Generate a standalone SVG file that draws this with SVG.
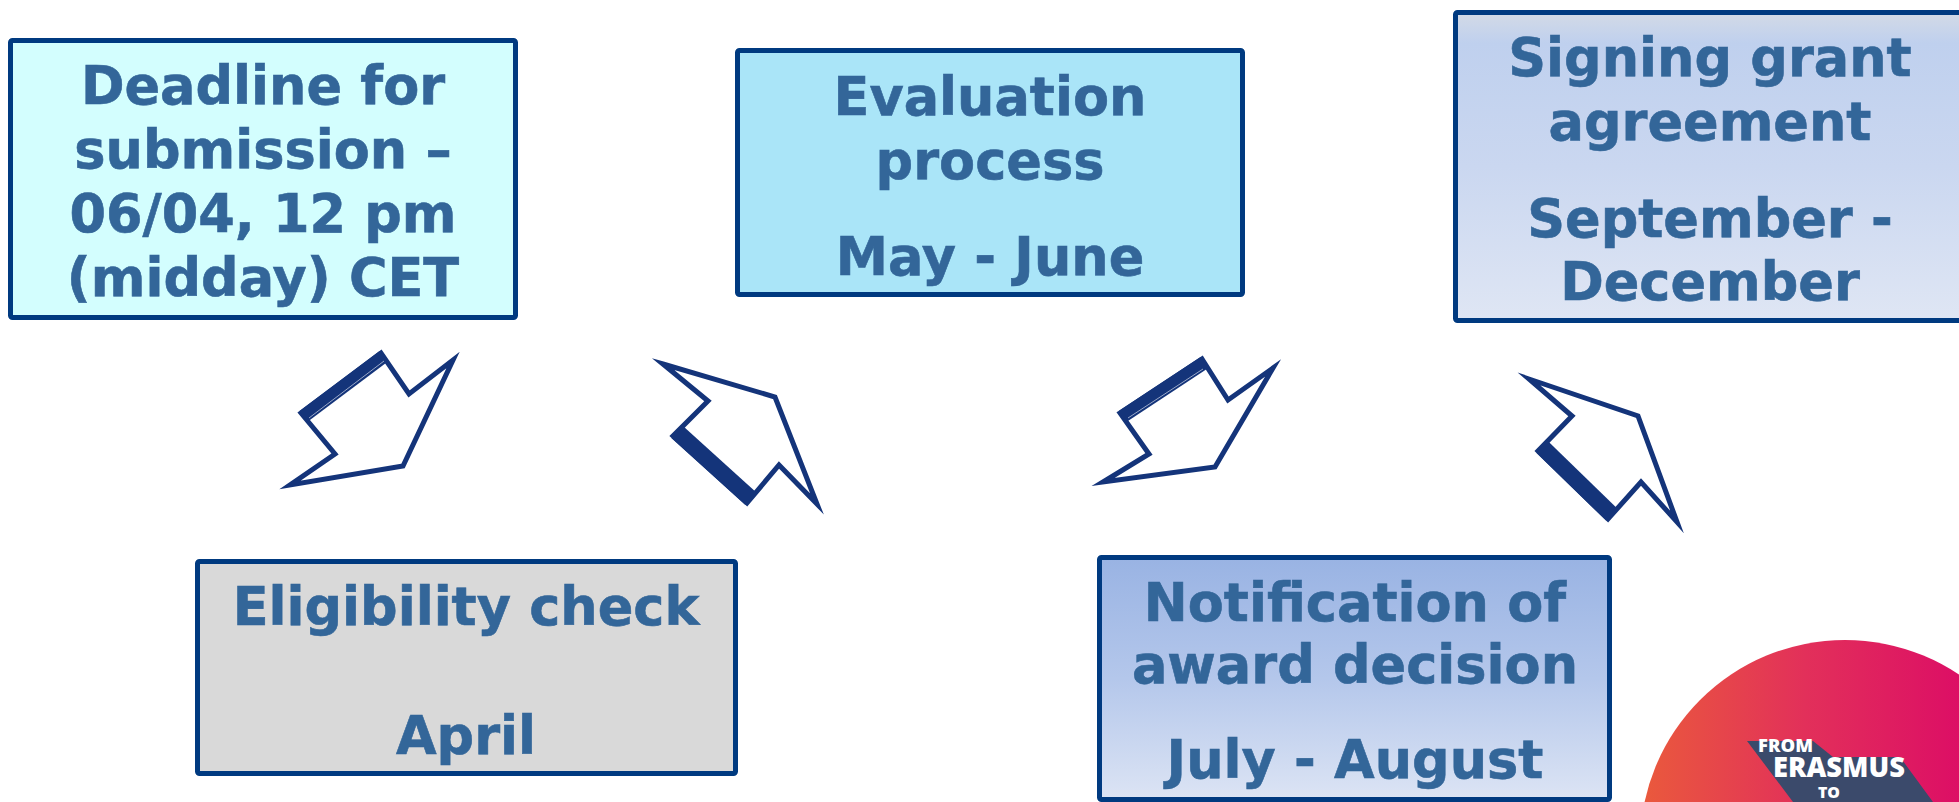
<svg xmlns="http://www.w3.org/2000/svg" width="1959" height="802" viewBox="0 0 1959 802">
<defs>
<style>
.box{stroke:#003A80;stroke-width:5;}
.t{font-family:"DejaVu Sans","Verdana",sans-serif;font-weight:bold;font-size:52.5px;fill:#336699;stroke:#336699;stroke-width:0.6;text-anchor:middle;}
.arr{fill:#FFFFFF;stroke:#14347A;stroke-width:5;stroke-linejoin:miter;stroke-miterlimit:10;}
.band{fill:#14347A;}
.hl{stroke:#9AA8C8;stroke-width:1;fill:none;}
.lg{font-family:"Open Sans","Roboto",sans-serif;font-weight:800;fill:#FFFFFF;}
</style>
<linearGradient id="gSign" x1="0" y1="0" x2="0" y2="1">
<stop offset="0" stop-color="#D3DAE6"/>
<stop offset="0.1" stop-color="#BFD0EE"/>
<stop offset="0.5" stop-color="#CAD7F0"/>
<stop offset="1" stop-color="#DFE6F4"/>
</linearGradient>
<linearGradient id="gNotif" x1="0" y1="0" x2="0" y2="1">
<stop offset="0" stop-color="#99B3E3"/>
<stop offset="0.5" stop-color="#B4C7EB"/>
<stop offset="1" stop-color="#DCE4F4"/>
</linearGradient>
<linearGradient id="gLogo" gradientUnits="userSpaceOnUse" x1="1640" y1="0" x2="1970" y2="0">
<stop offset="0" stop-color="#EA5A3C"/>
<stop offset="0.5" stop-color="#E2305A"/>
<stop offset="1" stop-color="#DC0C66"/>
</linearGradient>
</defs>
<rect x="0" y="0" width="1959" height="802" fill="#FFFFFF"/>

<g id="node-deadline">
<rect class="box" x="10.5" y="40.5" width="505" height="277" rx="2" fill="#D3FEFE"/>
<text class="t" x="263" y="104">Deadline for</text>
<text class="t" x="263" y="168">submission –</text>
<text class="t" x="263" y="232">06/04, 12 pm</text>
<text class="t" x="263" y="296">(midday) CET</text>
</g>

<g id="node-evaluation">
<rect class="box" x="737.5" y="50.5" width="505" height="244" rx="2" fill="#AAE5F8"/>
<text class="t" x="990" y="115">Evaluation</text>
<text class="t" x="990" y="179">process</text>
<text class="t" x="990" y="275">May - June</text>
</g>

<g id="node-signing">
<rect class="box" x="1455.5" y="12.5" width="560" height="308" rx="2" fill="url(#gSign)"/>
<text class="t" x="1710" y="76">Signing grant</text>
<text class="t" x="1710" y="140">agreement</text>
<text class="t" x="1710" y="237">September -</text>
<text class="t" x="1710" y="300">December</text>
</g>

<g id="node-eligibility">
<rect class="box" x="197.5" y="561.5" width="538" height="212" rx="2" fill="#D9D9D9"/>
<text class="t" x="466" y="625">Eligibility check</text>
<text class="t" x="466" y="754">April</text>
</g>

<g id="node-notification">
<rect class="box" x="1099.5" y="557.5" width="510" height="242" rx="2" fill="url(#gNotif)"/>
<text class="t" x="1355" y="621">Notification of</text>
<text class="t" x="1355" y="683">award decision</text>
<text class="t" x="1355" y="778">July - August</text>
</g>

<g id="connectors">
<g id="arrow-deadline-eligibility">
<polygon class="arr" points="301,413 381,353 409,394 453,360 403,466 290,485 335,454"/>
<polygon class="band" points="299.5,411 379.5,351 387.6,361.8 307.6,421.8"/>
<line class="hl" x1="309" y1="418" x2="384" y2="361"/>
</g>
<g id="arrow-eligibility-evaluation">
<polygon class="arr" points="663,364 775,397 817,504 779,465 747,503 673,436 708,401"/>
<polygon class="band" points="671.3,437.9 745.3,504.9 756.4,492.6 682.4,425.6"/>
</g>
<g id="arrow-evaluation-notification">
<polygon class="arr" points="1120,413 1202,359 1228,400 1273,368 1215,467 1103,482 1149,454"/>
<polygon class="band" points="1118.6,410.9 1200.6,356.9 1208,368.2 1126,422.2"/>
<line class="hl" x1="1128" y1="418" x2="1203" y2="369"/>
</g>
<g id="arrow-notification-signing">
<polygon class="arr" points="1529,379 1638,416 1677,522 1641,482 1608,519 1538,451 1572,416"/>
<polygon class="band" points="1536.3,452.8 1606.3,520.8 1617.8,509 1547.8,441"/>
</g>
</g>

<g id="logo">
<circle cx="1845" cy="845" r="205" fill="url(#gLogo)"/>
<polygon points="1747,741 1813,741 1833,757 1900,757 1933,802 1793,802" fill="#3B4A6B"/>
<text class="lg"><tspan x="1758" y="752" font-size="18" textLength="55" lengthAdjust="spacingAndGlyphs">FROM</tspan><tspan x="1773" y="777" font-size="28" textLength="132" lengthAdjust="spacingAndGlyphs">ERASMUS</tspan><tspan x="1818" y="798" font-size="16" textLength="22" lengthAdjust="spacingAndGlyphs">TO</tspan></text>
</g>
</svg>
